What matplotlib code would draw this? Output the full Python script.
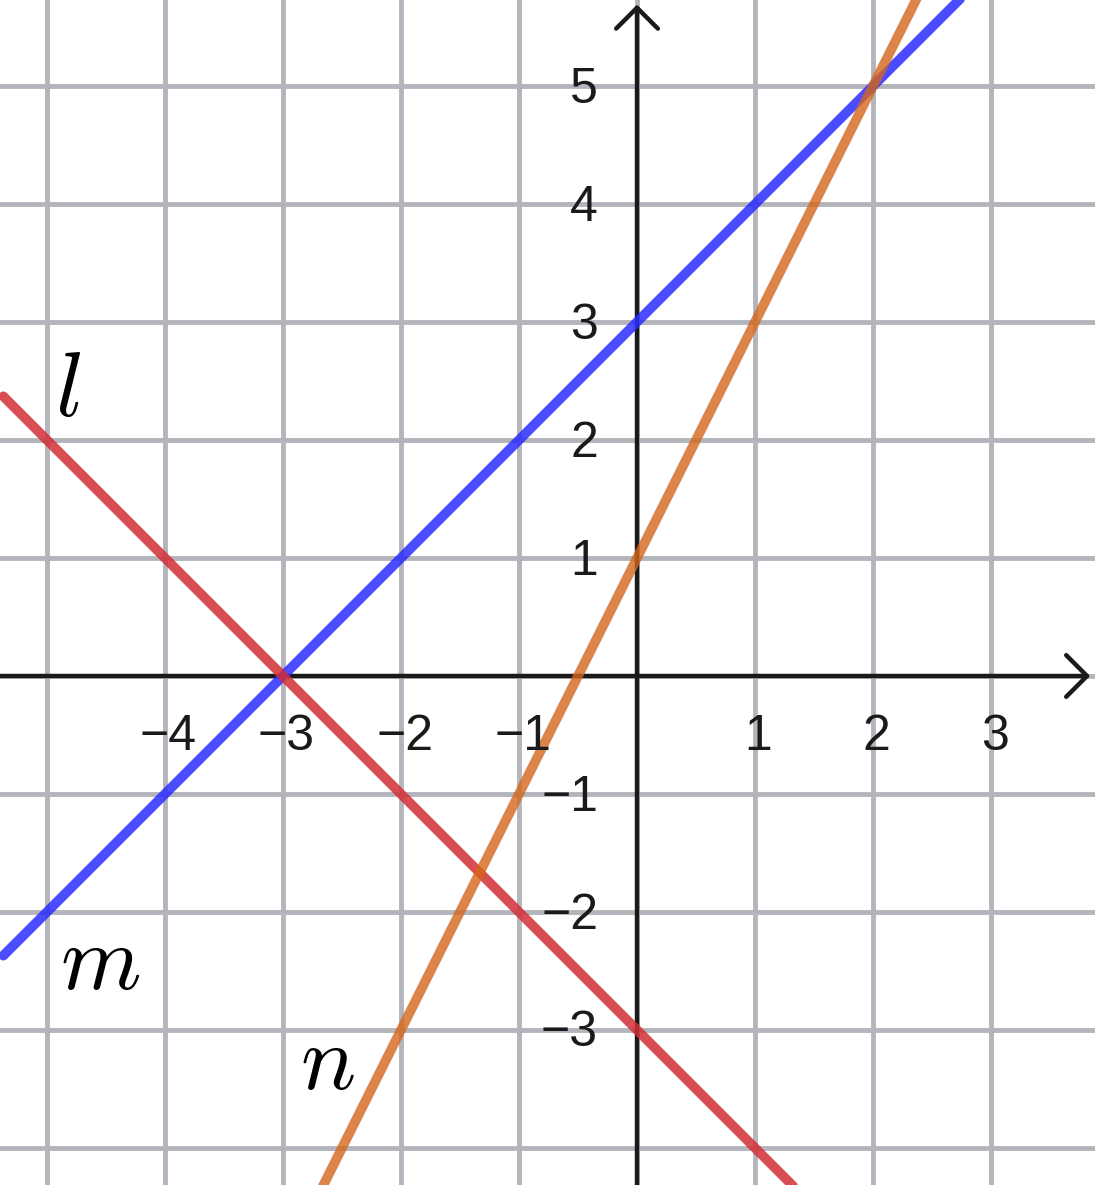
import matplotlib.pyplot as plt
import numpy as np

# ---   DATA   --- #
# ---------------- #
X_TICKS = [-4, -3, -2, -1, 1, 2, 3]
Y_TICKS = [-3, -2, -1, 1, 2, 3, 4, 5]
GRID_X = [-5, -4, -3, -2, -1, 0, 1, 2, 3]
GRID_Y = [-4, -3, -2, -1, 0, 1, 2, 3, 4, 5]

# line l : red, starts at left with a point
L_X = [-5.37, 1.40]
L_Y = [2.37, -4.40]
# line m : blue, starts at left with a point
M_X = [-5.37, 2.85]
M_Y = [-2.37, 5.85]
# line n : orange
N_X = [-2.70, 2.45]
N_Y = [-4.40, 5.90]

LABELS = ['l', 'm', 'n']
LABEL_X = [-4.82, -4.55, -2.62]
LABEL_Y = [2.42, -2.43, -3.28]

# ---   MAIN   --- #
# ---------------- #
if __name__ == "__main__":
    plt.rcParams['mathtext.fontset'] = 'cm'
    fig = plt.figure(figsize=(10.95, 11.85), dpi=100)
    ax = fig.add_axes([0, 0, 1, 1])
    ax.set_xlim(-5.398, 3.881)
    ax.set_ylim(-4.314, 5.729)
    ax.axis('off')

    # Grid
    for gx in GRID_X:
        ax.axvline(gx, color='#b4b4bc', lw=3.5, zorder=1)
    for gy in GRID_Y:
        ax.axhline(gy, color='#b4b4bc', lw=3.5, zorder=1)

    # Axes with arrows
    arrow = dict(arrowstyle='->, head_length=0.5, head_width=0.5',
                 lw=3.2, color='#1a1a1a', mutation_scale=30,
                 shrinkA=0, shrinkB=0)
    ax.annotate('', xy=(3.84, 0), xytext=(-5.5, 0), arrowprops=arrow,
                zorder=2)
    ax.annotate('', xy=(0, 5.69), xytext=(0, -4.5), arrowprops=arrow,
                zorder=2)

    # Tick labels
    for t in X_TICKS:
        ax.text(t + 0.03, -0.52, '\u2212%d' % -t if t < 0 else '%d' % t,
                fontsize=36, family='Liberation Sans', color='#1a1a1a',
                ha='center', va='center', zorder=6)
    for t in Y_TICKS:
        ax.text(-0.33, t - 0.03, '\u2212%d' % -t if t < 0 else '%d' % t,
                fontsize=36, family='Liberation Sans', color='#1a1a1a',
                ha='right', va='center', zorder=6)

    # Lines
    ax.plot(M_X, M_Y, color='#2b2bff', alpha=0.85, lw=7,
            solid_capstyle='round', zorder=3)
    ax.plot(L_X, L_Y, color='#d32f35', alpha=0.85, lw=7,
            solid_capstyle='round', zorder=4)
    ax.plot(N_X, N_Y, color='#d5661a', alpha=0.8, lw=7,
            solid_capstyle='round', zorder=5)

    # Line names
    for name, lx, ly in zip(LABELS, LABEL_X, LABEL_Y):
        ax.text(lx, ly, '$%s$' % name, fontsize=66, color='black',
                ha='center', va='center', zorder=7)

    plt.savefig('out.png', dpi=100)
